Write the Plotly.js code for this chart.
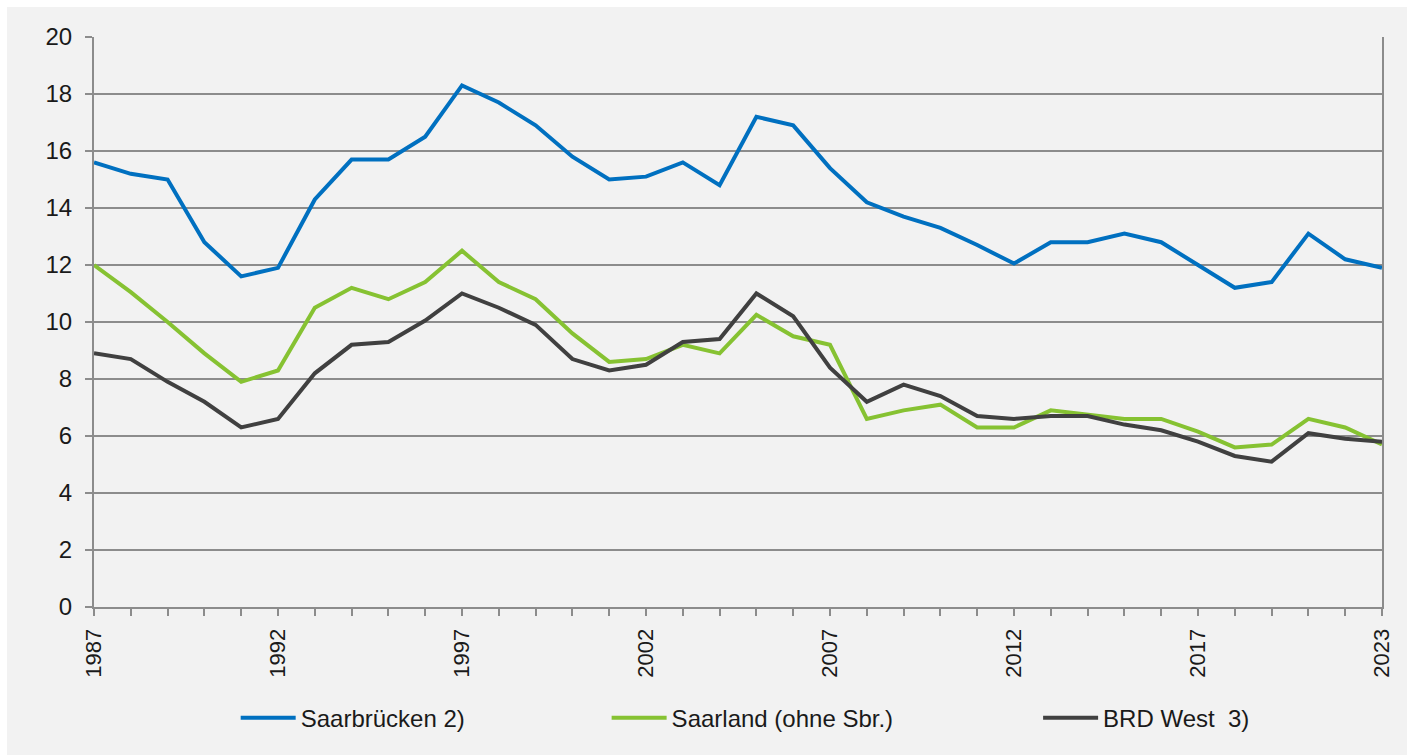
<!DOCTYPE html>
<html>
<head>
<meta charset="utf-8">
<script src="https://cdn.plot.ly/plotly-3.0.1.min.js"></script>
<style>
  html, body { margin: 0; padding: 0; background: #ffffff; }
  #chart { position: absolute; left: 7px; top: 7px; width: 1400px; height: 748px; }
</style>
</head>
<body>
<div id="chart"></div>
<script>
const years = ["1987","1988","1989","1990","1991","1992","1993","1994","1995","1996",
               "1997","1998","1999","2000","2001","2002","2003","2004","2005","2006",
               "2007","2008","2009","2010","2011","2012","2013","2014","2015","2016",
               "2017","2018","2019","2020","2021","2023"];
const tickLabels = ["1987","1992","1997","2002","2007","2012","2017","2023"];

const saarbruecken = [15.6,15.2,15.0,12.8,11.6,11.9,14.3,15.7,15.7,16.5,
                      18.3,17.7,16.9,15.8,15.0,15.1,15.6,14.8,17.2,16.9,
                      15.4,14.2,13.7,13.3,12.7,12.05,12.8,12.8,13.1,12.8,
                      12.0,11.2,11.4,13.1,12.2,11.9];
const saarland = [12.0,11.05,10.0,8.9,7.9,8.3,10.5,11.2,10.8,11.4,
                  12.5,11.4,10.8,9.6,8.6,8.7,9.2,8.9,10.25,9.5,
                  9.2,6.6,6.9,7.1,6.3,6.3,6.9,6.75,6.6,6.6,
                  6.15,5.6,5.7,6.6,6.3,5.7];
const brdWest = [8.9,8.7,7.9,7.2,6.3,6.6,8.2,9.2,9.3,10.05,
                 11.0,10.5,9.9,8.7,8.3,8.5,9.3,9.4,11.0,10.2,
                 8.4,7.2,7.8,7.4,6.7,6.6,6.7,6.7,6.4,6.2,
                 5.8,5.3,5.1,6.1,5.9,5.8];

const seriesNames = ["Saarbrücken 2)", "Saarland (ohne Sbr.)", "BRD West  3)"];
const seriesColors = ["#0070c0", "#86c232", "#404040"];

const FONT = "Liberation Sans, Arial, sans-serif";
const gridCol = "#8c8c8c";

const traces = [saarbruecken, saarland, brdWest].map((vals, i) => ({
  type: "scatter",
  mode: "lines",
  x: years,
  y: vals,
  name: seriesNames[i],
  line: { color: seriesColors[i], width: 4 },
  legend: i === 0 ? "legend" : ("legend" + (i + 1)),
  hoverinfo: "x+y+name"
}));

const tickText = years.map((y, i) => {
  if (i === years.length - 1) return tickLabels[tickLabels.length - 1];
  return tickLabels.indexOf(y) >= 0 ? y : "";
});

const legendBase = {
  orientation: "h",
  yanchor: "middle",
  y: -0.195,
  xanchor: "left",
  bgcolor: "rgba(0,0,0,0)",
  font: { family: FONT, size: 24, color: "#1a1a1a" },
  itemwidth: 55
};

const layout = {
  width: 1400,
  height: 748,
  margin: { l: 87, r: 25, t: 30, b: 148 },
  paper_bgcolor: "#f2f2f2",
  plot_bgcolor: "#f2f2f2",
  showlegend: true,
  xaxis: {
    type: "category",
    range: [0, years.length - 1],
    tickmode: "array",
    tickvals: years,
    ticktext: tickText,
    tickangle: -90,
    ticks: "outside",
    ticklen: 7,
    tickwidth: 1.5,
    tickcolor: gridCol,
    showline: true,
    linecolor: gridCol,
    linewidth: 2,
    showgrid: false,
    zeroline: false,
    ticklabelstandoff: 4,
    tickfont: { family: FONT, size: 22, color: "#1a1a1a" },
    fixedrange: true
  },
  yaxis: {
    range: [0, 20],
    dtick: 2,
    tick0: 0,
    ticks: "outside",
    ticklen: 7,
    tickwidth: 1.5,
    tickcolor: gridCol,
    showline: true,
    mirror: true,
    linecolor: gridCol,
    linewidth: 2,
    showgrid: true,
    gridcolor: gridCol,
    gridwidth: 1.5,
    zeroline: false,
    ticklabelstandoff: 8,
    tickfont: { family: FONT, size: 24, color: "#1a1a1a" },
    fixedrange: true
  },
  legend: Object.assign({}, legendBase, { x: 0.110 }),
  legend2: Object.assign({}, legendBase, { x: 0.398 }),
  legend3: Object.assign({}, legendBase, { x: 0.733 })
};

Plotly.newPlot("chart", traces, layout, { displayModeBar: false });
</script>
</body>
</html>
